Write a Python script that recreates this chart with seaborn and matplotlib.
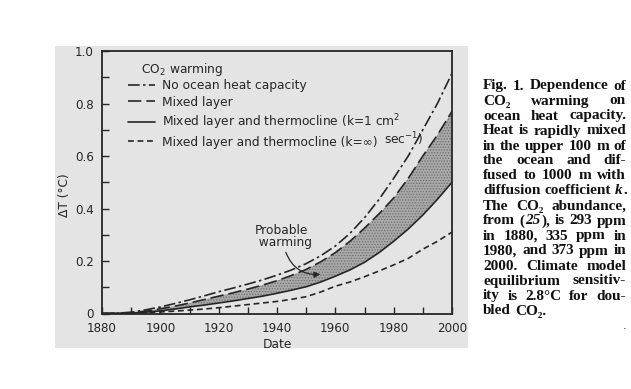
import matplotlib
matplotlib.use("Agg")
import matplotlib.pyplot as plt
import numpy as np
import pandas as pd
import seaborn as sns
from matplotlib.patches import Rectangle
from matplotlib.lines import Line2D

# ---------------- data ----------------
years = [1880, 1885, 1890, 1895, 1900, 1905, 1910, 1915, 1920, 1925, 1930, 1935,
         1940, 1945, 1950, 1955, 1960, 1965, 1970, 1975, 1980, 1985, 1990, 1995, 2000]
no_ocean = [0, 0.001, 0.005, 0.014, 0.025, 0.038, 0.052, 0.067, 0.083, 0.097, 0.112, 0.128,
            0.146, 0.166, 0.19, 0.22, 0.257, 0.305, 0.365, 0.435, 0.515, 0.60, 0.70, 0.80, 0.915]
mixed_layer = [0, 0.0005, 0.003, 0.009, 0.018, 0.028, 0.04, 0.053, 0.066, 0.079, 0.093, 0.108,
               0.125, 0.145, 0.168, 0.197, 0.232, 0.275, 0.325, 0.38, 0.44, 0.515, 0.60, 0.68, 0.77]
thermo_k1 = [0, 0.0003, 0.002, 0.005, 0.01, 0.017, 0.025, 0.032, 0.04, 0.048, 0.057, 0.066,
             0.077, 0.089, 0.102, 0.12, 0.142, 0.166, 0.195, 0.232, 0.275, 0.322, 0.375, 0.435, 0.50]
thermo_inf = [0, 0.0002, 0.001, 0.003, 0.006, 0.009, 0.013, 0.017, 0.022, 0.028, 0.034, 0.04,
              0.046, 0.054, 0.064, 0.082, 0.104, 0.12, 0.14, 0.162, 0.185, 0.21, 0.245, 0.275, 0.31]

series_labels = ["No ocean heat capacity",
                 "Mixed layer",
                 "Mixed layer and thermocline (k=1 cm$^2$",
                 "Mixed layer and thermocline (k=\u221e)"]
legend_title = "CO$_2$ warming"
x_ticks = [1880, 1900, 1920, 1940, 1960, 1980, 2000]
x_minor = [1890, 1910, 1930, 1950, 1970, 1990]
y_ticks = [0, 0.2, 0.4, 0.6, 0.8, 1.0]
y_tick_labels = ["0", "0.2", "0.4", "0.6", "0.8", "1.0"]
y_minor = [0.1, 0.3, 0.5, 0.7, 0.9]

caption_lines = ["Fig. 1. Dependence of", "CO\u2082 warming on", "ocean heat capacity.",
                 "Heat is rapidly mixed", "in the upper 100 m of", "the ocean and dif-",
                 "fused to 1000 m with", "diffusion coefficient *k*.", "The CO\u2082 abundance,",
                 "from (*25*), is 293 ppm", "in 1880, 335 ppm in", "1980, and 373 ppm in",
                 "2000. Climate model", "equilibrium sensitiv-", "ity is 2.8\u00b0C for dou-",
                 "bled CO\u2082."]

df = pd.DataFrame({"year": years, "no_ocean": no_ocean, "mixed": mixed_layer,
                   "k1": thermo_k1, "kinf": thermo_inf})

# ---------------- style ----------------
sns.set_style("ticks")
plt.rcParams["font.family"] = ["DejaVu Sans"]
plt.rcParams["hatch.linewidth"] = 0.6
ink = "#262626"
bg = "#e4e4e4"
fs = 8.8

W, H = 631, 389
fig = plt.figure(figsize=(W / 100, H / 100), dpi=100)
fig.patch.set_facecolor("white")
fig.patches.append(Rectangle((55 / W, 1 - 348 / H), 413 / W, 302 / H,
                             transform=fig.transFigure, facecolor=bg,
                             edgecolor="none", zorder=-5))

ax = fig.add_axes([102 / W, 1 - 313.5 / H, 350 / W, 262.5 / H])
ax.set_zorder(2)
ax.set_facecolor(bg)

styles = {
    "no_ocean": (0, (7, 2, 1.5, 2)),
    "mixed": (0, (8, 3)),
    "k1": "-",
    "kinf": (0, (3.5, 2.2)),
}

ax.fill_between(df["year"], df["k1"], df["mixed"], facecolor="#a9a9a9",
                edgecolor="#6e6e6e", hatch="......", linewidth=0, zorder=1)
for key in ["no_ocean", "mixed", "k1", "kinf"]:
    sns.lineplot(data=df, x="year", y=key, ax=ax, color=ink, linewidth=1.2,
                 linestyle=styles[key], zorder=3)

ax.set_xlim(1880, 2000)
ax.set_ylim(0, 1.0)
ax.set_xticks(x_ticks)
ax.set_xticks(x_minor, minor=True)
ax.set_yticks(y_ticks)
ax.set_yticklabels(y_tick_labels)
ax.set_yticks(y_minor, minor=True)
ax.tick_params(which="both", direction="in", length=5, width=1, colors=ink,
               labelsize=8.6, pad=6, top=False, right=False)
for s in ax.spines.values():
    s.set_color(ink)
    s.set_linewidth(1.3)

ax.set_xlabel("Date", fontsize=fs, color=ink)
ax.set_ylabel("\u0394T (\u00b0C)", fontsize=fs, color=ink)
ax.xaxis.set_label_coords(0.5, -0.095)
ax.yaxis.set_label_coords(-0.09, 0.45)

# legend
handles = [Line2D([], [], color=ink, lw=1.2, linestyle=styles[k])
           for k in ["no_ocean", "mixed", "k1", "kinf"]]
leg = ax.legend(handles, series_labels, loc="upper left", bbox_to_anchor=(0.075, 0.893),
                frameon=False, handlelength=2.2, handletextpad=0.55, labelspacing=0.3,
                borderpad=0, borderaxespad=0, fontsize=fs)
for t in leg.get_texts():
    t.set_color(ink)
ax.text(0.1106, 0.930, legend_title, transform=ax.transAxes, fontsize=fs,
        color=ink, va="center", ha="left")
ax.text(0.805, 0.664, "sec$^{-1}$)", transform=ax.transAxes, fontsize=fs,
        color=ink, va="center", ha="left")

# annotation
ax.text(1941.4, 0.293, "Probable\n  warming", ha="center", va="center",
        fontsize=fs, color=ink, linespacing=0.95)
ax.annotate("", xy=(1955.8, 0.15), xytext=(1942.7, 0.243),
            arrowprops=dict(arrowstyle="-|>", connectionstyle="arc3,rad=0.4",
                            color=ink, lw=0.9, mutation_scale=9))

# ---------------- caption (justified) ----------------
fig.canvas.draw()
renderer = fig.canvas.get_renderer()
cap_font = dict(family=["Liberation Serif", "DejaVu Serif"], size=11.0,
                weight="bold", color="#111111")
x_left, x_right = 483.0, 626.0
base0, step = 89.5, 15.0


def parse_word(word):
    segs = []
    parts = word.split("*")
    for i, p in enumerate(parts):
        if p:
            segs.append((p, "italic" if i % 2 == 1 else "normal"))
    return segs


def seg_width(text, style):
    t = fig.text(0, 0, text, style=style, **cap_font)
    w = t.get_window_extent(renderer=renderer).width
    t.remove()
    return w


space_w = seg_width("a b", "normal") - seg_width("ab", "normal")
for i, line in enumerate(caption_lines):
    words = [parse_word(w) for w in line.split(" ")]
    widths = [[seg_width(s, st) for s, st in wd] for wd in words]
    totals = [sum(w) for w in widths]
    last = i == len(caption_lines) - 1
    if last or len(words) == 1:
        gap = space_w
    else:
        gap = max((x_right - x_left - sum(totals)) / (len(words) - 1), 0.6 * space_w)
    x = x_left
    y = base0 + step * i
    for wd, ws in zip(words, widths):
        for (s, st), w in zip(wd, ws):
            fig.text(x / W, 1 - y / H, s, style=st, va="baseline", ha="left", **cap_font)
            x += w + (1.0 if st == "italic" else 0.0)
        x += gap

fig.text(625 / W, 1 - 329 / H, ".", fontsize=8, color="#111111", ha="center", va="baseline")

fig.savefig("out.png", dpi=100)
